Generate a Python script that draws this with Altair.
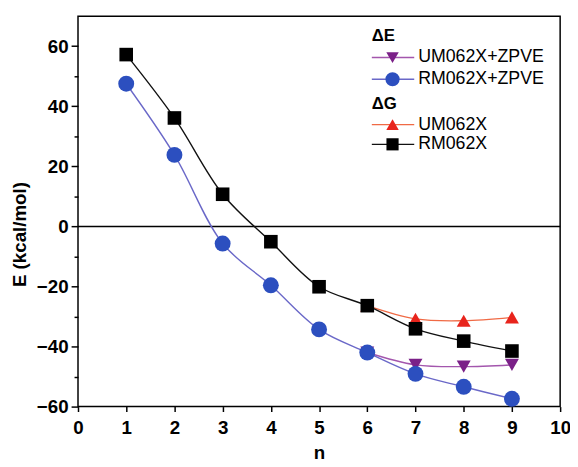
import altair as alt
import pandas as pd

# ---- data ----
n_all = [1, 2, 3, 4, 5, 6, 7, 8, 9]
n_u = [6, 7, 8, 9]
rm062x_g = [57.2, 36.1, 10.7, -5.1, -20.1, -26.4, -34.1, -38.2, -41.5]      # ΔG RM062X
rm062x_zpve = [47.5, 23.8, -5.7, -19.6, -34.3, -42.0, -49.1, -53.4, -57.4]  # ΔE RM062X+ZPVE
um062x_g = [-26.4, -30.8, -31.4, -30.3]                                     # ΔG UM062X
um062x_zpve = [-42.0, -46.1, -46.7, -46.1]                                  # ΔE UM062X+ZPVE

x_ticks = list(range(0, 11))
y_ticks = list(range(-60, 61, 10))

# series styles: name, line colour, marker colour, shape, size
series = [
    ("UM062X+ZPVE", n_u, um062x_zpve, "#a356ad", "#7b2088", "triangle-down", 200),
    ("UM062X", n_u, um062x_g, "#f06a45", "#e8241c", "triangle-up", 200),
    ("RM062X+ZPVE", n_all, rm062x_zpve, "#6a68c8", "#2c4fbf", "circle", 260),
    ("RM062X", n_all, rm062x_g, "#111111", "#000000", "square", 190),
]

FONT = "Liberation Sans"
W, H = 489, 396

xscale = alt.Scale(domain=[0, 10], nice=False, zero=False)
yscale = alt.Scale(domain=[-60, 70], nice=False, zero=False)

xaxis = alt.Axis(
    values=x_ticks, title="n", grid=False, domain=False,
    tickSize=5, tickWidth=1.5, tickColor="black",
    labelFont=FONT, labelFontSize=19, labelFontWeight="bold", labelColor="black",
    labelPadding=7, labelFlush=False,
    titleFont=FONT, titleFontSize=19, titleFontWeight="bold", titleColor="black",
    titleY=47, titleBaseline="middle",
)
yaxis = alt.Axis(
    values=y_ticks, title="E (kcal/mol)", grid=False, domain=False,
    tickSize={"condition": {"test": "datum.value % 20 === 0", "value": 7}, "value": 4},
    tickWidth=1.5, tickColor="black",
    labelExpr="datum.value % 20 === 0 ? datum.label : ''",
    labelFont=FONT, labelFontSize=19, labelFontWeight="bold", labelColor="black",
    labelPadding=3, labelFlush=False,
    titleFont=FONT, titleFontSize=19, titleFontWeight="bold", titleColor="black",
    titleX=-59, titleY=221, titleAngle=-90, titleBaseline="middle", titleAlign="center",
)

layers = []

# zero line
zero = alt.Chart(pd.DataFrame({"y": [0]})).mark_rule(color="black", strokeWidth=1.5).encode(
    y=alt.Y("y:Q", scale=yscale, axis=yaxis)
)
layers.append(zero)

for name, xs, ys, lc, mc, shape, size in series:
    df = pd.DataFrame({"n": xs, "E": ys})
    base = alt.Chart(df).encode(
        x=alt.X("n:Q", scale=xscale, axis=xaxis),
        y=alt.Y("E:Q", scale=yscale, axis=yaxis),
    )
    layers.append(base.mark_line(interpolate="catmull-rom", color=lc, strokeWidth=1.4))
for name, xs, ys, lc, mc, shape, size in series:
    df = pd.DataFrame({"n": xs, "E": ys})
    base = alt.Chart(df).encode(
        x=alt.X("n:Q", scale=xscale, axis=xaxis),
        y=alt.Y("E:Q", scale=yscale, axis=yaxis),
    )
    layers.append(base.mark_point(filled=True, shape=shape, size=size, color=mc, opacity=1))

# ---- custom legend (inside plot, top-right) ----
LX0, LX1, LM, LT = 298, 341, 319, 345
headers = [("ΔE", 20.5), ("ΔG", 89)]
entries = [
    (series[0], 42), (series[2], 64), (series[1], 110), (series[3], 130),
]
one = pd.DataFrame({"k": [0]})
for txt, yy in headers:
    layers.append(alt.Chart(one).mark_text(
        align="left", baseline="middle", font=FONT, fontSize=17, fontWeight="bold", color="black"
    ).encode(x=alt.value(LX0), y=alt.value(yy), text=alt.value(txt)))
for (name, xs, ys, lc, mc, shape, size), yy in entries:
    layers.append(alt.Chart(one).mark_rule(color=lc, strokeWidth=1.4).encode(
        x=alt.value(LX0), x2=alt.value(LX1), y=alt.value(yy)))
    layers.append(alt.Chart(one).mark_point(filled=True, shape=shape, size=size * 0.8, color=mc, opacity=1).encode(
        x=alt.value(LM), y=alt.value(yy)))
    layers.append(alt.Chart(one).mark_text(
        align="left", baseline="middle", font=FONT, fontSize=18, color="black"
    ).encode(x=alt.value(LT), y=alt.value(yy), text=alt.value(name)))

chart = alt.layer(*layers).properties(
    width=W, height=H,
    autosize=alt.AutoSizeParams(type="none"),
    padding={"left": 71, "top": 5, "right": 10, "bottom": 58},
    background="white",
).configure_view(stroke="black", strokeWidth=1.5)

chart.save("out.html", embed_options={"renderer": "svg", "actions": False})
